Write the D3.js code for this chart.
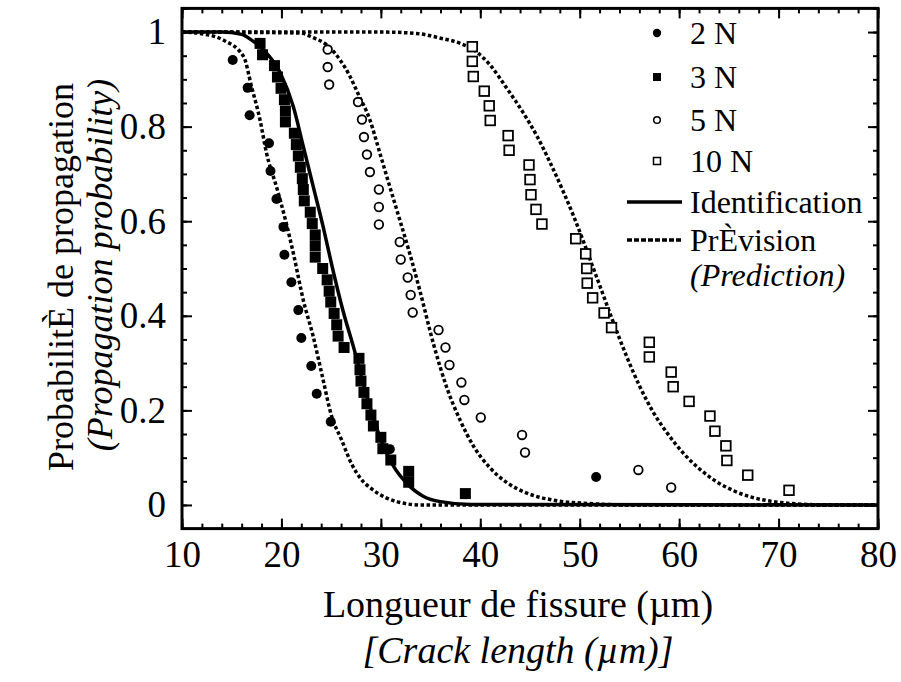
<!DOCTYPE html>
<html>
<head>
<meta charset="utf-8">
<script src="https://cdn.jsdelivr.net/npm/d3@7"></script>
<style>
  body { margin: 0; background: #fff; }
  svg text { font-family: "Times New Roman", "Liberation Serif", Times, "DejaVu Serif", serif !important; fill: #000; }
</style>
</head>
<body>
<div id="chart-area"></div>
<script>

var x2N = [15.1, 16.6, 16.8, 18.75, 18.9, 19.5, 20.2, 20.3, 21.0, 21.7, 22.0, 23.0, 23.55, 24.96, 30.9, 51.65];
var y2N = [0.941, 0.882, 0.824, 0.765, 0.706, 0.647, 0.588, 0.529, 0.471, 0.412, 0.353, 0.294, 0.235, 0.176, 0.118, 0.059];

var x3N = [17.85, 18.1, 19.3, 19.6, 19.96, 20.3, 20.4, 20.4, 21.3, 21.5, 21.7, 21.9, 22.1, 22.2, 22.3, 22.9, 23.1, 23.4, 23.4, 23.4,
           24.15, 24.6, 24.8, 24.96, 25.3, 25.56, 25.7, 26.3, 27.8, 27.9, 28.0, 28.3, 28.6, 29.0, 29.25, 30.0, 30.2, 31.0, 32.8, 32.8, 38.5];
var y3N = [0.976, 0.952, 0.929, 0.905, 0.881, 0.857, 0.833, 0.810, 0.786, 0.762, 0.738, 0.714, 0.690, 0.667, 0.643, 0.619, 0.595, 0.571, 0.548, 0.524,
           0.500, 0.476, 0.452, 0.429, 0.405, 0.381, 0.357, 0.333, 0.310, 0.286, 0.262, 0.238, 0.214, 0.190, 0.167, 0.143, 0.119, 0.095, 0.071, 0.048, 0.024];

var x5N = [24.65, 24.65, 24.8, 27.7, 28.1, 28.3, 28.6, 28.9, 29.8, 29.8, 29.8, 31.9, 32.0, 32.7, 33.0, 33.2, 35.8, 36.5, 36.9, 38.1, 38.4, 40.05, 44.2, 44.5, 55.9, 59.2];
var y5N = [0.963, 0.926, 0.889, 0.852, 0.815, 0.778, 0.741, 0.704, 0.667, 0.630, 0.593, 0.556, 0.519, 0.481, 0.444, 0.407, 0.370, 0.333, 0.296, 0.259, 0.222, 0.185, 0.148, 0.111, 0.074, 0.037];

var x10N = [39.2, 39.2, 39.3, 40.4, 40.9, 41.0, 42.8, 42.9, 44.9, 45.0, 45.1, 45.6, 46.2, 49.6, 50.6, 50.7, 50.75, 51.3, 52.45, 53.2,
            57.0, 57.0, 59.2, 59.4, 61.0, 63.1, 63.6, 64.7, 64.8, 66.9, 71.05];
var y10N = [0.969, 0.938, 0.906, 0.875, 0.844, 0.813, 0.781, 0.750, 0.719, 0.688, 0.656, 0.625, 0.594, 0.563, 0.531, 0.500, 0.469, 0.438, 0.406, 0.375,
            0.344, 0.313, 0.281, 0.250, 0.219, 0.188, 0.156, 0.125, 0.094, 0.063, 0.031];

// Curves
var identX = [10, 14, 16, 17, 18.2, 19.9, 21.2, 22.2, 23.2, 24.2, 25.1, 26.2, 27.3, 28.6, 29.9, 31.3, 32.6, 34.3, 36, 39, 80];
var identY = [1, 1, 0.995, 0.983, 0.962, 0.913, 0.842, 0.758, 0.673, 0.588, 0.504, 0.41, 0.33, 0.229, 0.144, 0.081, 0.046, 0.018, 0.007, 0.001, 0];

var pred2X = [10, 11.8, 14.15, 16.2, 17, 17.85, 18.5, 19.5, 20.4, 21.2, 22.2, 23.2, 24.05, 25.06, 26, 27.1, 28, 29.2, 31.6, 34, 80];
var pred2Y = [1, 0.997, 0.983, 0.948, 0.884, 0.814, 0.744, 0.673, 0.603, 0.532, 0.433, 0.356, 0.278, 0.187, 0.14, 0.085, 0.055, 0.032, 0.007, 0, 0];

var pred5X = [10, 21.9, 23.2, 24.55, 25.9, 26.9, 27.7, 28.9, 29.9, 30.9, 31.9, 32.9, 33.9, 35.3, 36.6, 38, 39.3, 41, 42.7, 44.7, 47.7, 51, 55, 80];
var pred5Y = [1, 0.998, 0.988, 0.973, 0.941, 0.906, 0.87, 0.814, 0.744, 0.673, 0.603, 0.532, 0.455, 0.34, 0.25, 0.178, 0.125, 0.078, 0.047, 0.025, 0.009, 0.003, 0, 0];

var pred10X = [10, 30, 33.6, 36, 38, 39.5, 41, 42.7, 44.3, 45.7, 47, 48.4, 49.4, 50.4, 51.2, 52.05, 53.4, 54.7, 56.1, 57.4, 58.8, 60.4, 62, 63.7, 65.5, 67.2, 68.9, 72, 75, 80];
var pred10Y = [1, 1, 0.997, 0.987, 0.976, 0.96, 0.93, 0.88, 0.83, 0.78, 0.725, 0.66, 0.61, 0.556, 0.51, 0.462, 0.385, 0.315, 0.248, 0.196, 0.152, 0.11, 0.077, 0.05, 0.03, 0.017, 0.009, 0.002, 0, 0];

var xTicks = [10, 20, 30, 40, 50, 60, 70, 80];
var yTicks = [0, 0.2, 0.4, 0.6, 0.8, 1];
var yTickLabels = ["0", "0.2", "0.4", "0.6", "0.8", "1"];

var margin = {left: 182, right: 23, top: 8.4, bottom: 153.4};
var width = 901 - margin.left - margin.right,
    height = 682 - margin.top - margin.bottom;

var svg = d3.select("#chart-area")
    .append("svg")
        .attr("width", 901)
        .attr("height", 682);

var g = svg.append("g")
    .attr("transform", "translate(" + margin.left + "," + margin.top + ")");

var x = d3.scaleLinear().domain([10, 80]).range([0, width]);
var y = d3.scaleLinear().domain([-0.05, 1.05]).range([height, 0]);

var minorX = d3.range(10, 80.01, 2);
var minorY = d3.range(0, 1.051, 0.05);

// Axes: ticks pointing inward on all four sides
var xAxisCall = d3.axisBottom(x).tickValues(xTicks).tickSize(-10).tickPadding(10)
    .tickFormat(function (d) { return d; });
var yAxisCall = d3.axisLeft(y).tickValues(yTicks).tickSize(-10).tickPadding(16)
    .tickFormat(function (d, i) { return yTickLabels[i]; });

var xAxisGroup = g.append("g").attr("transform", "translate(0," + height + ")").call(xAxisCall);
var yAxisGroup = g.append("g").call(yAxisCall);

g.append("g").attr("transform", "translate(0," + height + ")")
    .call(d3.axisBottom(x).tickValues(minorX).tickSize(-5).tickFormat(""));
g.append("g")
    .call(d3.axisLeft(y).tickValues(minorY).tickSize(-5).tickFormat(""));
g.append("g")
    .call(d3.axisTop(x).tickValues(xTicks).tickSize(-10).tickFormat(""));
g.append("g")
    .call(d3.axisTop(x).tickValues(minorX).tickSize(-5).tickFormat(""));
g.append("g").attr("transform", "translate(" + width + ",0)")
    .call(d3.axisRight(y).tickValues(yTicks).tickSize(-10).tickFormat(""));
g.append("g").attr("transform", "translate(" + width + ",0)")
    .call(d3.axisRight(y).tickValues(minorY).tickSize(-5).tickFormat(""));

g.selectAll(".domain").remove();
g.selectAll("g").attr("font-family", null);
g.selectAll(".tick line").attr("stroke", "#000").attr("stroke-width", 2);
g.selectAll(".tick text").attr("font-size", "37px");
xAxisGroup.selectAll(".tick text").attr("dy", "0.78em");

// Frame
g.append("rect")
    .attr("x", 0).attr("y", 0)
    .attr("width", width).attr("height", height)
    .attr("fill", "none").attr("stroke", "#000").attr("stroke-width", 3);

// Curves
var line = d3.line()
    .x(function (d) { return x(d[0]); })
    .y(function (d) { return y(d[1]); })
    .curve(d3.curveMonotoneX);

function pairs(xs, ys) { return xs.map(function (v, i) { return [v, ys[i]]; }); }

[[pred2X, pred2Y], [pred5X, pred5Y], [pred10X, pred10Y]].forEach(function (c) {
    g.append("path")
        .attr("d", line(pairs(c[0], c[1])))
        .attr("fill", "none").attr("stroke", "#000")
        .attr("stroke-width", 3.5).attr("stroke-dasharray", "3.5,2.5");
});

g.append("path")
    .attr("d", line(pairs(identX, identY)))
    .attr("fill", "none").attr("stroke", "#000").attr("stroke-width", 3.5);

// Points
g.selectAll(".p2").data(pairs(x2N, y2N)).enter().append("circle")
    .attr("cx", function (d) { return x(d[0]); })
    .attr("cy", function (d) { return y(d[1]); })
    .attr("r", 5).attr("fill", "#000");

g.selectAll(".p3").data(pairs(x3N, y3N)).enter().append("rect")
    .attr("x", function (d) { return x(d[0]) - 5.5; })
    .attr("y", function (d) { return y(d[1]) - 5.5; })
    .attr("width", 11).attr("height", 11).attr("fill", "#000");

g.selectAll(".p5").data(pairs(x5N, y5N)).enter().append("circle")
    .attr("cx", function (d) { return x(d[0]); })
    .attr("cy", function (d) { return y(d[1]); })
    .attr("r", 4.3).attr("fill", "#fff").attr("stroke", "#000").attr("stroke-width", 1.8);

g.selectAll(".p10").data(pairs(x10N, y10N)).enter().append("rect")
    .attr("x", function (d) { return x(d[0]) - 4.8; })
    .attr("y", function (d) { return y(d[1]) - 4.8; })
    .attr("width", 9.6).attr("height", 9.6)
    .attr("fill", "#fff").attr("stroke", "#000").attr("stroke-width", 1.8);

// Legend
var legend = svg.append("g");
var lx = 657, tx = 690;
var legendY = [33, 77, 120, 161, 202, 240, 275];
legend.append("circle").attr("cx", lx).attr("cy", legendY[0]).attr("r", 4.2).attr("fill", "#000");
legend.append("rect").attr("x", lx - 4).attr("y", legendY[1] - 4).attr("width", 8).attr("height", 8).attr("fill", "#000");
legend.append("circle").attr("cx", lx).attr("cy", legendY[2]).attr("r", 3.3).attr("fill", "#fff").attr("stroke", "#000").attr("stroke-width", 1.5);
legend.append("rect").attr("x", lx - 3.5).attr("y", legendY[3] - 3.5).attr("width", 7).attr("height", 7)
    .attr("fill", "#fff").attr("stroke", "#000").attr("stroke-width", 1.5);
legend.append("line").attr("x1", 627).attr("x2", 682).attr("y1", legendY[4]).attr("y2", legendY[4])
    .attr("stroke", "#000").attr("stroke-width", 3.5);
legend.append("line").attr("x1", 627).attr("x2", 682).attr("y1", legendY[5]).attr("y2", legendY[5])
    .attr("stroke", "#000").attr("stroke-width", 3.5).attr("stroke-dasharray", "5,2");

var legendLabels = ["2 N", "3 N", "5 N", "10 N", "Identification", "PrÈvision", "(Prediction)"];
legend.selectAll(".lt").data(legendLabels).enter().append("text")
    .attr("x", tx)
    .attr("y", function (d, i) { return legendY[i]; })
    .attr("dy", "0.35em")
    .attr("font-size", "32px")
    .attr("font-style", function (d, i) { return i == 6 ? "italic" : "normal"; })
    .text(function (d) { return d; });

// Axis titles
svg.append("text")
    .attr("x", 518).attr("y", 617)
    .attr("text-anchor", "middle").attr("font-size", "38px")
    .text("Longueur de fissure (µm)");
svg.append("text")
    .attr("x", 518).attr("y", 663)
    .attr("text-anchor", "middle").attr("font-size", "38px").attr("font-style", "italic")
    .text("[Crack length (µm)]");

svg.append("text")
    .attr("transform", "translate(73,277) rotate(-90)")
    .attr("text-anchor", "middle").attr("font-size", "36px")
    .text("ProbabilitÈ de propagation");
svg.append("text")
    .attr("transform", "translate(112,265) rotate(-90)")
    .attr("text-anchor", "middle").attr("font-size", "36px").attr("font-style", "italic")
    .text("(Propagation probability)");

</script>
</body>
</html>
